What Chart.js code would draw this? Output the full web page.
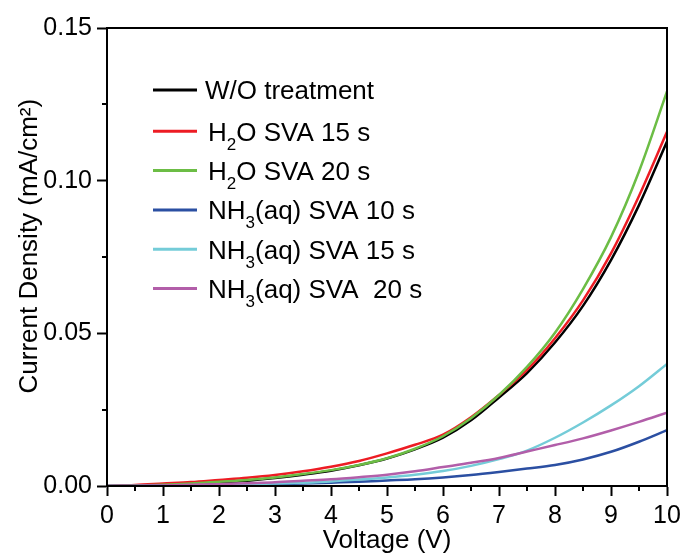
<!DOCTYPE html>
<html lang="en">
<head>
  <meta charset="UTF-8">
  <title>Current Density vs Voltage</title>
  <style>
    html, body {
      margin: 0;
      padding: 0;
      background: #fff;
    }
    .chart-box {
      width: 686px;
      height: 556px;
    }
  </style>
</head>
<body>
  <div class="chart-box">
    <canvas id="ivChart"></canvas>
  </div>

  <script src="https://cdn.jsdelivr.net/npm/chart.js"></script>
  <script>
    // voltage steps (V)
    const voltages = [0, 0.5, 1, 1.5, 2, 2.5, 3, 3.5, 4, 4.5, 5, 5.5, 6, 6.5, 7, 7.5, 8, 8.5, 9, 9.5, 10];

    // current density (mA/cm2)
    const woTreatment = [0, 0.0001, 0.0003, 0.0006, 0.0011, 0.0017, 0.0026, 0.0037, 0.0050, 0.0068, 0.0090, 0.0120, 0.0158, 0.0215, 0.0290, 0.0370, 0.0470, 0.0590, 0.0740, 0.0920, 0.1128];
    const h2o15 = [0, 0.0003, 0.0008, 0.0013, 0.0020, 0.0027, 0.0036, 0.0048, 0.0063, 0.0082, 0.0107, 0.0135, 0.0168, 0.0225, 0.0298, 0.0380, 0.0484, 0.0608, 0.0762, 0.0950, 0.1160];
    const h2o20 = [0, 0.0002, 0.0004, 0.0008, 0.0014, 0.0020, 0.0028, 0.0039, 0.0052, 0.0069, 0.0091, 0.0122, 0.0163, 0.0222, 0.0298, 0.0390, 0.0502, 0.0645, 0.0815, 0.1030, 0.1292];
    const nh3_10 = [0, 0, 0.0001, 0.0002, 0.0003, 0.0004, 0.0006, 0.0008, 0.0011, 0.0014, 0.0018, 0.0022, 0.0028, 0.0036, 0.0046, 0.0057, 0.0069, 0.0087, 0.0112, 0.0145, 0.0183];
    const nh3_15 = [0, 0, 0.0001, 0.0002, 0.0003, 0.0005, 0.0008, 0.0011, 0.0015, 0.0021, 0.0028, 0.0037, 0.0049, 0.0066, 0.0088, 0.0116, 0.0158, 0.0208, 0.0264, 0.0327, 0.0400];
    const nh3_20 = [0, 0.0001, 0.0002, 0.0004, 0.0006, 0.0009, 0.0012, 0.0017, 0.0022, 0.0029, 0.0037, 0.0048, 0.0062, 0.0076, 0.0092, 0.0113, 0.0134, 0.0156, 0.0182, 0.0210, 0.0240];

    const seriesNames = ['W/O treatment', 'H₂O SVA 15 s', 'H₂O SVA 20 s', 'NH₃(aq) SVA 10 s', 'NH₃(aq) SVA 15 s', 'NH₃(aq) SVA  20 s'];
    const seriesValues = [woTreatment, h2o15, h2o20, nh3_10, nh3_15, nh3_20];
    const seriesColors = ['#000000', '#ed1c24', '#6cbd45', '#2b4fa2', '#74ccd8', '#b25ea9'];

    // minor tick positions
    const xMinorTicks = [0.5, 1.5, 2.5, 3.5, 4.5, 5.5, 6.5, 7.5, 8.5, 9.5];
    const yMinorTicks = [0.025, 0.075, 0.125];

    const FONT = "'Liberation Sans', Arial, sans-serif";
    const SUBS = '₀₁₂₃₄₅₆₇₈₉';

    // frame + short minor ticks
    const frameAndMinors = {
      id: 'frameAndMinors',
      afterDraw(chart) {
        const { ctx, chartArea: a, scales: { x, y } } = chart;
        ctx.save();
        ctx.strokeStyle = '#000';
        ctx.lineWidth = 2;
        ctx.beginPath();
        xMinorTicks.forEach(v => {
          const px = Math.round(x.getPixelForValue(v));
          ctx.moveTo(px, a.bottom);
          ctx.lineTo(px, a.bottom + 5);
        });
        yMinorTicks.forEach(v => {
          const py = Math.round(y.getPixelForValue(v));
          ctx.moveTo(a.left, py);
          ctx.lineTo(a.left - 5, py);
        });
        ctx.stroke();
        ctx.strokeRect(a.left, a.top, a.right - a.left, a.bottom - a.top);
        ctx.restore();
      }
    };

    // legend inside the plot, with real subscripts
    function drawLabel(ctx, text, x, y) {
      let cx = x;
      let buf = '';
      const flush = () => {
        if (!buf) return;
        ctx.font = '26px ' + FONT;
        ctx.fillText(buf, cx, y);
        cx += ctx.measureText(buf).width;
        buf = '';
      };
      for (const ch of text) {
        const k = SUBS.indexOf(ch);
        if (k >= 0) {
          flush();
          ctx.font = '17px ' + FONT;
          ctx.fillText(String(k), cx, y + 9);
          cx += ctx.measureText(String(k)).width;
        } else {
          buf += ch;
        }
      }
      flush();
    }

    const insideLegend = {
      id: 'insideLegend',
      afterDraw(chart) {
        const ctx = chart.ctx;
        ctx.save();
        ctx.textBaseline = 'alphabetic';
        ctx.fillStyle = '#000';
        chart.data.datasets.forEach((ds, i) => {
          const rowY = i === 0 ? 90 : 92 + i * 39.3;
          ctx.strokeStyle = ds.borderColor;
          ctx.lineWidth = 3;
          ctx.beginPath();
          ctx.moveTo(153, rowY);
          ctx.lineTo(197, rowY);
          ctx.stroke();
          drawLabel(ctx, ds.label, i === 0 ? 205 : 208, rowY + 9.3);
        });
        ctx.restore();
      }
    };

    const datasets = seriesNames.map((name, i) => ({
      label: name,
      data: voltages.map((v, j) => ({ x: v, y: seriesValues[i][j] })),
      borderColor: seriesColors[i],
      backgroundColor: seriesColors[i],
      borderWidth: 2.5,
      pointRadius: 0,
      cubicInterpolationMode: 'monotone',
      order: seriesNames.length - i
    }));

    new Chart(document.getElementById('ivChart'), {
      type: 'line',
      data: { datasets: datasets },
      options: {
        responsive: true,
        maintainAspectRatio: false,
        animation: false,
        layout: { padding: { top: 28, right: 19, left: 0, bottom: 0 } },
        plugins: {
          legend: { display: false },
          tooltip: { enabled: false }
        },
        scales: {
          x: {
            type: 'linear',
            min: 0,
            max: 10,
            afterFit: s => { s.height = 70; },
            ticks: {
              stepSize: 1,
              color: '#000',
              padding: 5,
              maxRotation: 0,
              font: { family: FONT, size: 25 }
            },
            grid: {
              drawOnChartArea: false,
              drawTicks: true,
              tickLength: 10,
              tickWidth: 2,
              tickColor: '#000'
            },
            border: { display: true, color: '#000', width: 2 },
            title: {
              display: true,
              text: 'Voltage (V)',
              color: '#000',
              padding: { top: 0, bottom: 0 },
              font: { family: FONT, size: 26 }
            }
          },
          y: {
            type: 'linear',
            min: 0,
            max: 0.15,
            afterFit: s => { s.width = 107; },
            ticks: {
              stepSize: 0.05,
              color: '#000',
              padding: 5,
              font: { family: FONT, size: 25 },
              callback: v => v.toFixed(2)
            },
            grid: {
              drawOnChartArea: false,
              drawTicks: true,
              tickLength: 10,
              tickWidth: 2,
              tickColor: '#000'
            },
            border: { display: true, color: '#000', width: 2 },
            title: {
              display: true,
              // leading spaces nudge the centred title up a little, as in the figure
              text: '   Current Density (mA/cm²)',
              color: '#000',
              padding: { top: 14, bottom: 0 },
              font: { family: FONT, size: 26 }
            }
          }
        }
      },
      plugins: [frameAndMinors, insideLegend]
    });
  </script>
</body>
</html>
